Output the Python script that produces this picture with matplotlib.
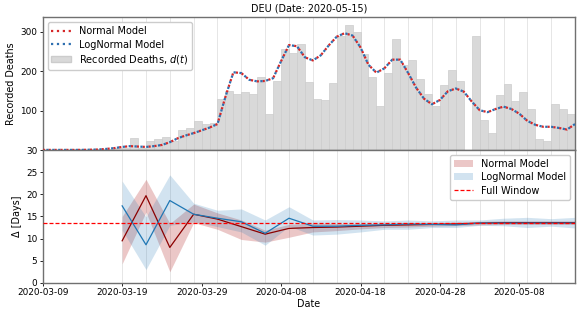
import matplotlib
matplotlib.use("Agg")
import matplotlib.pyplot as plt
import matplotlib.dates as mdates
import numpy as np
import pandas as pd
from matplotlib.patches import Patch
from matplotlib.lines import Line2D

# ---------------- data ----------------
start_date = "2020-03-09"
end_date = "2020-05-15"
title = "DEU (Date: 2020-05-15)"

# recorded daily deaths d(t), one value per day from 2020-03-09
deaths = [0, 0, 1, 0, 2, 1, 2, 3, 4, 5, 6, 31, 5, 23, 28, 33,
          22, 51, 57, 74, 66, 68, 129, 150, 141, 146, 142, 184, 92, 174,
          255, 246, 268, 172, 130, 127, 171, 290, 317, 298, 243, 184, 112,
          196, 281, 216, 228, 179, 141, 112, 165, 203, 175, 0, 289, 76, 44,
          139, 167, 125, 148, 104, 28, 24, 117, 103, 91]

# fitted model curves (per day)
normal_fit = [0.5, 0.5, 0.5, 0.5, 0.5, 0.6, 1, 1.5, 3, 5, 8, 10, 9, 8, 10, 13,
              20, 30, 37, 43, 50, 57, 66, 135, 197, 195, 178, 174, 175, 182,
              225, 266, 263, 235, 227, 240, 265, 287, 296, 290, 260, 216, 196,
              207, 229, 229, 195, 158, 130, 116, 127, 149, 156, 148, 123, 101, 96,
              104, 110, 104, 92, 74, 64, 59, 59, 56, 52, 66]
lognormal_fit = normal_fit

# delay estimates, every 3 days from 2020-03-19
delta_start = "2020-03-19"
normal_mean = [9.5, 19.7, 8.0, 15.5, 14.4, 12.7, 11.0, 12.3, 12.5, 12.6,
               12.8, 13.0, 13.1, 13.2, 13.3, 13.5, 13.6, 13.6, 13.6, 13.6]
normal_lo = [4.3, 16.0, 2.5, 13.6, 12.1, 9.8, 9.2, 10.3, 11.5, 11.8,
             12.2, 12.5, 12.6, 12.8, 12.9, 13.1, 13.2, 13.2, 13.2, 13.2]
normal_hi = [15.0, 23.4, 13.4, 17.8, 15.8, 14.2, 11.9, 13.2, 13.5, 13.4,
             13.4, 13.5, 13.6, 13.6, 13.7, 13.9, 14.0, 14.0, 14.0, 14.0]
lognormal_mean = [17.4, 8.6, 18.6, 15.5, 14.6, 13.8, 11.2, 14.6, 12.8, 12.8,
                  13.0, 13.1, 13.3, 13.2, 13.1, 13.5, 13.5, 13.5, 13.5, 13.5]
lognormal_lo = [11.9, 3.0, 13.0, 13.8, 12.7, 11.5, 8.5, 12.8, 10.8, 11.0,
                11.5, 12.1, 12.1, 12.5, 12.5, 13.0, 12.9, 12.5, 12.8, 12.4]
lognormal_hi = [23.0, 14.9, 24.4, 18.0, 16.4, 16.7, 14.2, 17.2, 14.2, 14.3,
                14.2, 14.0, 14.2, 14.0, 14.2, 14.2, 14.6, 14.8, 14.5, 14.8]
full_window = 13.6

# ---------------- plot ----------------
days = pd.date_range(start_date, periods=len(deaths), freq="D")
fit_days = pd.date_range(start_date, periods=len(normal_fit), freq="D")
delta_days = pd.date_range(delta_start, periods=len(normal_mean), freq="3D")

plt.rcParams["font.family"] = ["DejaVu Sans"]
fig = plt.figure(figsize=(5.81, 3.16), dpi=100)
ax1 = fig.add_axes([0.0735, 0.525, 0.9162, 0.420])
ax2 = fig.add_axes([0.0735, 0.105, 0.9162, 0.420], sharex=ax1)

tick_fs = 6.4
lab_fs = 6.9
leg_fs = 7.0

for ax in (ax1, ax2):
    for d in delta_days[:-1]:
        ax.axvline(d, color="#e6e6e6", lw=0.7, zorder=0)
    for s in ax.spines.values():
        s.set_color("#707070")
        s.set_linewidth(1.0)
    ax.tick_params(labelsize=tick_fs, length=2.5, width=0.6, pad=1.5)

ax1.bar(days, deaths, width=1.0, align="edge", color="#d9d9d9",
        edgecolor="#cccccc", linewidth=0.5, zorder=1)
ax1.plot(fit_days, normal_fit, color="#d62728", ls=":", lw=1.6, zorder=3)
ax1.plot(fit_days, lognormal_fit, color="#2e6fb0", lw=1.6, zorder=4,
         linestyle=(1.0, (1, 1.65)))
ax1.set_ylim(0, 336)
ax1.set_yticks([100, 200, 300])
ax1.set_ylabel("Recorded Deaths", fontsize=lab_fs, labelpad=3)
ax1.set_title(title, fontsize=lab_fs, pad=4)
ax1.tick_params(axis="x", bottom=False, labelbottom=False)

h1 = [Line2D([], [], color="#d62728", ls=":", lw=1.6),
      Line2D([], [], color="#2e6fb0", ls=":", lw=1.6),
      Patch(facecolor="#d9d9d9", edgecolor="#cccccc")]
ax1.legend(h1, ["Normal Model", "LogNormal Model", "Recorded Deaths, $d(t)$"],
           loc="upper left", fontsize=leg_fs, handlelength=2.0,
           borderpad=0.4, labelspacing=0.35, framealpha=1.0, edgecolor="#cccccc")

ax2.fill_between(delta_days, normal_lo, normal_hi, color="#b22222", alpha=0.25,
                 lw=0, zorder=2)
ax2.fill_between(delta_days, lognormal_lo, lognormal_hi, color="#1f77b4", alpha=0.2,
                 lw=0, zorder=2)
ax2.plot(delta_days, normal_mean, color="#8b0000", lw=0.9, zorder=3)
ax2.plot(delta_days, lognormal_mean, color="#1f77b4", lw=0.9, zorder=3)
ax2.axhline(full_window, color="#ff0000", ls="--", lw=0.9, dashes=(3.2, 1.6), zorder=4)
ax2.set_ylim(0, 30)
ax2.set_yticks(np.arange(0, 31, 5))
ax2.set_ylabel("Δ [Days]", fontsize=lab_fs, labelpad=3)
ax2.set_xlabel("Date", fontsize=lab_fs, labelpad=1)
ax2.set_xlim(pd.Timestamp(start_date), pd.Timestamp(end_date))
ax2.set_xticks(pd.date_range(start_date, end_date, freq="10D"))
ax2.xaxis.set_major_formatter(mdates.DateFormatter("%Y-%m-%d"))

h2 = [Patch(facecolor="#b22222", alpha=0.25),
      Patch(facecolor="#1f77b4", alpha=0.2),
      Line2D([], [], color="#ff0000", ls="--", lw=0.9, dashes=(3.2, 1.6))]
ax2.legend(h2, ["Normal Model", "LogNormal Model", "Full Window"],
           loc="upper right", fontsize=leg_fs, handlelength=2.0,
           borderpad=0.4, labelspacing=0.35, framealpha=1.0, edgecolor="#cccccc")

fig.savefig("out.png", dpi=100)
